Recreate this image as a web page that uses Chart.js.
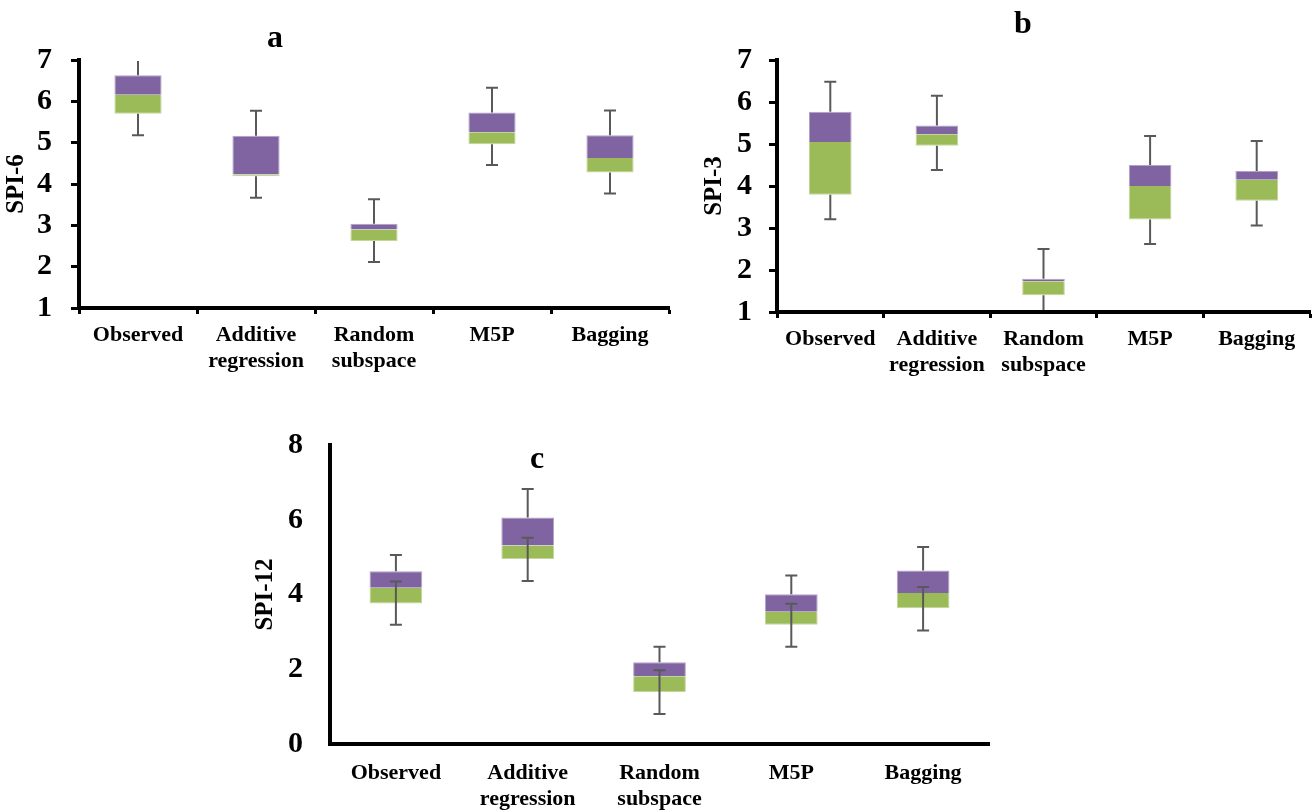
<!DOCTYPE html>
<html>
<head>
<meta charset="utf-8">
<script src="https://cdn.jsdelivr.net/npm/chart.js@4.4.1/dist/chart.umd.min.js"></script>
<style>
  html, body { margin: 0; padding: 0; background: #fff; }
  #wrap { position: relative; width: 1312px; height: 812px; overflow: hidden; }
  canvas { position: absolute; }
  .tag { position: absolute; font: bold 32px/32px 'Liberation Serif', serif; color: #000; transform: translateX(-50%); }
</style>
</head>
<body>
<div id="wrap">
  <canvas id="spi6" width="690" height="380" style="left:0;top:0"></canvas>
  <canvas id="spi3" width="622" height="390" style="left:690px;top:0"></canvas>
  <canvas id="spi12" width="772" height="392" style="left:240px;top:420px"></canvas>
  <div class="tag" style="left:275px;top:20px">a</div>
  <div class="tag" style="left:1023px;top:6px">b</div>
  <div class="tag" style="left:537px;top:441px">c</div>
</div>
<script>
// categories
const methods = [['Observed'], ['Additive', 'regression'], ['Random', 'subspace'], ['M5P'], ['Bagging']];

// SPI-6
const min6 = [5.18, 3.67, 2.11, 4.46, 3.77];
const q1_6 = [5.70, 4.19, 2.62, 4.96, 4.28];
const med6 = [6.16, 4.23, 2.90, 5.25, 4.63];
const q3_6 = [6.63, 5.17, 3.04, 5.73, 5.18];
const max6 = [7.00, 5.77, 3.63, 6.33, 5.78];

// SPI-3
const min3 = [3.21, 4.38, 1.00, 2.62, 3.06];
const q1_3 = [3.79, 4.96, 1.40, 3.20, 3.65];
const med3 = [5.05, 5.23, 1.73, 4.00, 4.15];
const q3_3 = [5.77, 5.44, 1.79, 4.50, 4.36];
const max3 = [6.48, 6.15, 2.50, 5.19, 5.07];

// SPI-12 (lower error bar is two-sided around Q1)
const min12 = [3.19, 4.36, 0.80, 2.60, 3.04];
const q1_12 = [3.76, 4.95, 1.39, 3.19, 3.63];
const med12 = [4.18, 5.31, 1.81, 3.54, 4.04];
const q3_12 = [4.62, 6.06, 2.19, 4.01, 4.64];
const max12 = [5.06, 6.82, 2.60, 4.51, 5.27];
const lowTop12 = [4.35, 5.52, 1.97, 3.75, 4.20];

const ticks6 = [1, 2, 3, 4, 5, 6, 7];
const ticks3 = [1, 2, 3, 4, 5, 6, 7];
const ticks12 = [0, 2, 4, 6, 8];

const GREEN = '#9bbb59';
const PURPLE = '#8064a2';
const WHISKER = '#595959';
const SERIF = "'Liberation Serif', 'Times New Roman', serif";

// whiskers drawn on top of the boxes
const whiskerPlugin = {
  id: 'whiskers',
  afterDatasetsDraw(chart, args, opts) {
    const { ctx, chartArea } = chart;
    const xs = chart.scales.x;
    const ys = chart.scales.y;
    const cap = 6;
    ctx.save();
    ctx.beginPath();
    ctx.rect(chartArea.left, chartArea.top + 1, chartArea.right - chartArea.left, chartArea.bottom - chartArea.top - 3);
    ctx.clip();
    ctx.strokeStyle = WHISKER;
    ctx.lineWidth = 2;
    const seg = function (x, v1, v2, capA, capB) {
      const y1 = ys.getPixelForValue(v1);
      const y2 = ys.getPixelForValue(v2);
      ctx.beginPath();
      ctx.moveTo(x, y1);
      ctx.lineTo(x, y2);
      if (capA) { ctx.moveTo(x - cap, y1); ctx.lineTo(x + cap, y1); }
      if (capB) { ctx.moveTo(x - cap, y2); ctx.lineTo(x + cap, y2); }
      ctx.stroke();
    };
    opts.max.forEach(function (v, i) {
      const x = xs.getPixelForValue(i);
      seg(x, opts.q3[i], v, false, true);
      if (opts.lowTop) {
        seg(x, opts.lowTop[i], opts.min[i], true, true);
      } else {
        seg(x, opts.q1[i], opts.min[i], false, true);
      }
    });
    ctx.restore();
  },
};

function pairs(a, b) {
  return a.map(function (v, i) { return [v, b[i]]; });
}

function boxChart(id, cfg) {
  const el = document.getElementById(id);
  const W = el.width;
  const H = el.height;
  return new Chart(el, {
    type: 'bar',
    data: {
      labels: methods,
      datasets: [
        {
          // Q1 -> median
          data: pairs(cfg.q1, cfg.med),
          backgroundColor: GREEN,
          borderColor: '#c3d69b',
          borderWidth: { top: 0, left: 1, right: 1, bottom: 1 },
          borderSkipped: false,
          grouped: false,
          barPercentage: 0.4,
          categoryPercentage: 1,
        },
        {
          // median -> Q3
          data: pairs(cfg.med, cfg.q3),
          backgroundColor: PURPLE,
          borderColor: '#b3a2c7',
          borderWidth: { top: 1, left: 1, right: 1, bottom: 0 },
          borderSkipped: false,
          grouped: false,
          barPercentage: 0.4,
          categoryPercentage: 1,
        },
      ],
    },
    options: {
      responsive: false,
      animation: false,
      events: [],
      layout: { padding: { top: cfg.area.top, right: W - cfg.area.right, left: 0, bottom: 0 } },
      plugins: {
        legend: { display: false },
        tooltip: { enabled: false },
        whiskers: { min: cfg.min, q1: cfg.q1, q3: cfg.q3, max: cfg.max, lowTop: cfg.lowTop },
      },
      scales: {
        x: {
          afterFit: function (s) { s.height = H - cfg.area.bottom; },
          grid: {
            display: true,
            drawOnChartArea: false,
            drawTicks: cfg.xTicks,
            tickLength: 6,
            tickWidth: 3,
            tickColor: '#000',
          },
          border: { display: true, color: '#000', width: 4 },
          ticks: {
            color: '#000',
            padding: cfg.xPad,
            maxRotation: 0,
            autoSkip: false,
            font: { family: SERIF, weight: 'bold', size: 22, lineHeight: 1.2 },
          },
        },
        y: {
          min: cfg.yTicks[0],
          max: cfg.yTicks[cfg.yTicks.length - 1],
          afterFit: function (s) { s.width = cfg.area.left; },
          afterBuildTicks: function (s) { s.ticks = cfg.yTicks.map(function (v) { return { value: v }; }); },
          grid: {
            display: true,
            drawOnChartArea: false,
            drawTicks: true,
            tickLength: cfg.yTickLen,
            tickWidth: 3,
            tickColor: cfg.yTickColor,
          },
          border: { display: true, color: '#000', width: 4 },
          ticks: {
            color: '#000',
            padding: cfg.yPad,
            font: { family: SERIF, weight: 'bold', size: 30 },
          },
          title: {
            display: true,
            text: cfg.title,
            color: '#000',
            padding: { top: cfg.titlePad, bottom: 0 },
            font: { family: SERIF, weight: 'bold', size: 25, lineHeight: 1 },
          },
        },
      },
    },
    plugins: [whiskerPlugin],
  });
}

boxChart('spi6', {
  min: min6, q1: q1_6, med: med6, q3: q3_6, max: max6,
  yTicks: ticks6, title: 'SPI-6',
  area: { left: 79, right: 669, top: 60, bottom: 308 },
  xTicks: true, yTickLen: 8, yTickColor: '#000', xPad: 8, yPad: 19, titlePad: 4,
});

boxChart('spi3', {
  min: min3, q1: q1_3, med: med3, q3: q3_3, max: max3,
  yTicks: ticks3, title: 'SPI-3',
  area: { left: 87, right: 620, top: 60, bottom: 312 },
  xTicks: true, yTickLen: 8, yTickColor: '#000', xPad: 8, yPad: 17, titlePad: 12,
});

// panel c has no tick marks: the transparent tick length only spaces the labels
boxChart('spi12', {
  min: min12, q1: q1_12, med: med12, q3: q3_12, max: max12, lowTop: lowTop12,
  yTicks: ticks12, title: 'SPI-12',
  area: { left: 90, right: 749, top: 25, bottom: 324 },
  xTicks: false, yTickLen: 22, yTickColor: 'rgba(0,0,0,0)', xPad: 16, yPad: 5, titlePad: 13,
});
</script>
</body>
</html>
